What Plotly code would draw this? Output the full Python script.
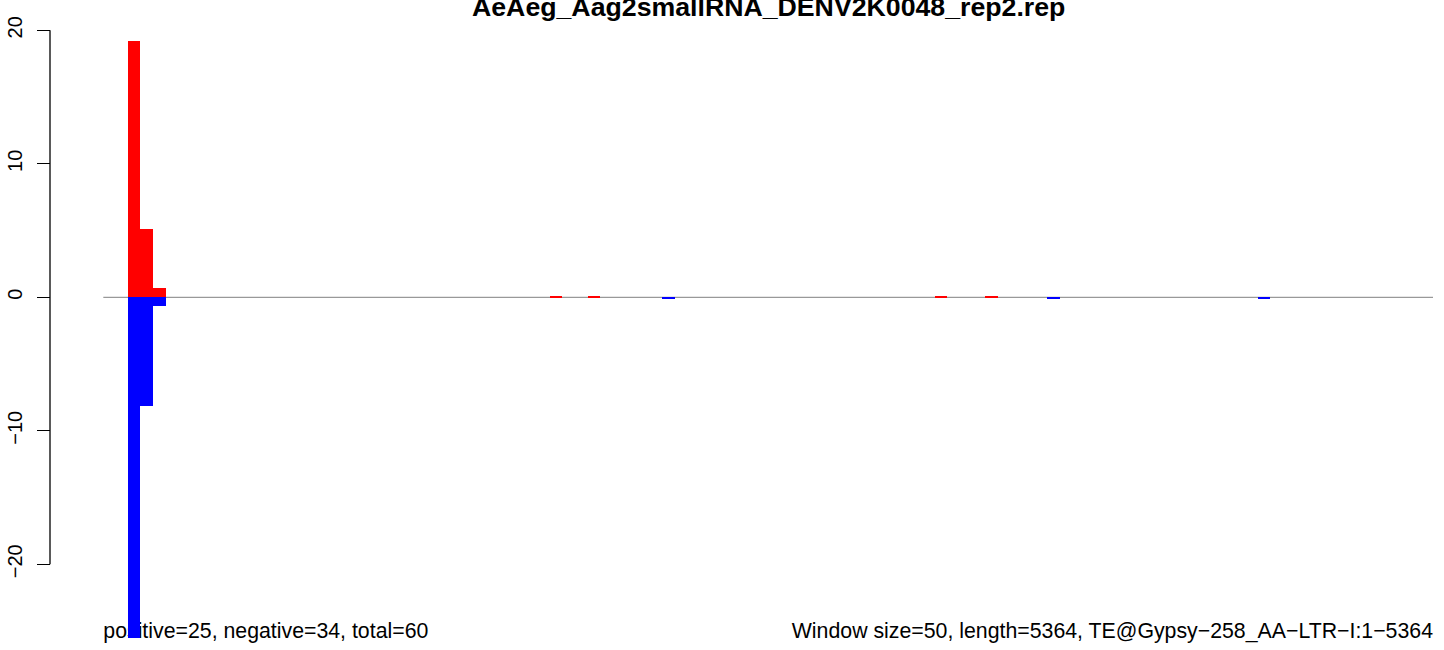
import plotly.graph_objects as go

# ---- data ----
title = "AeAeg_Aag2smallRNA_DENV2K0048_rep2.rep"
left_note = "positive=25, negative=34, total=60"
right_note = "Window size=50, length=5364, TE@Gypsy\u2212258_AA\u2212LTR\u2212I:1\u22125364"

window = 50
pos_start = [0, 50, 100, 1665, 1815, 3185, 3385]          # window start (nt)
pos_value = [19.2, 5.1, 0.67, 0.08, 0.08, 0.08, 0.08]
neg_start = [0, 50, 100, 2110, 3630, 4460]
neg_value = [-25.5, -8.15, -0.63, -0.15, -0.12, -0.12]

y_ticks = [-20, -10, 0, 10, 20]
y_tick_text = ["\u221220", "\u221210", "0", "10", "20"]

x_range = [-97.5, 5151]
y_range = [-26.42, 22.27]

FONT = "Liberation Sans, Arial, Helvetica, sans-serif"

fig = go.Figure()

# text notes in the base subplot (drawn beneath the bars)
fig.add_trace(go.Scatter(
    x=[x_range[0]], y=[-25.15], mode="text", text=[left_note],
    textposition="middle right", textfont=dict(family=FONT, size=21.3, color="black"),
    cliponaxis=False, showlegend=False, hoverinfo="skip", xaxis="x", yaxis="y"))
fig.add_trace(go.Scatter(
    x=[x_range[1]], y=[-25.15], mode="text", text=[right_note],
    textposition="middle left", textfont=dict(family=FONT, size=21.3, color="black"),
    cliponaxis=False, showlegend=False, hoverinfo="skip", xaxis="x", yaxis="y"))

# bars in an overlaying subplot
fig.add_trace(go.Bar(
    x=[s + window / 2 for s in pos_start], y=pos_value, width=window,
    marker=dict(color="#FF0000", line=dict(width=0)),
    showlegend=False, xaxis="x2", yaxis="y2"))
fig.add_trace(go.Bar(
    x=[s + window / 2 for s in neg_start], y=neg_value, width=window,
    marker=dict(color="#0000FF", line=dict(width=0)),
    showlegend=False, xaxis="x2", yaxis="y2"))

W, H = 1444, 650
ml, mr = 50, 11
dom0 = (103.3 - ml) / (W - ml - mr)

fig.update_layout(
    width=W, height=H,
    margin=dict(l=ml, r=mr, t=0, b=0, pad=0),
    paper_bgcolor="white", plot_bgcolor="white",
    barmode="overlay", bargap=0,
    font=dict(family=FONT, size=20, color="black"),
    xaxis=dict(domain=[dom0, 1], range=x_range, visible=False, fixedrange=True),
    yaxis=dict(range=y_range, anchor="free", position=0,
               tickvals=y_ticks, ticktext=y_tick_text, ticks="outside",
               ticklen=13, tickwidth=1, tickcolor="black", tickangle=-90,
               tickfont=dict(family=FONT, size=20, color="black"),
               ticklabelstandoff=7,
               showline=False, showgrid=False, zeroline=False),
    xaxis2=dict(domain=[dom0, 1], range=x_range, overlaying="x", visible=False, anchor="y2"),
    yaxis2=dict(range=y_range, overlaying="y", visible=False, anchor="x2"),
    shapes=[
        # zero line across the plot region
        dict(type="line", xref="x domain", yref="y", x0=0, x1=1, y0=0, y1=0,
             line=dict(color="#808080", width=1), layer="below"),
        # y axis line spanning first to last tick
        dict(type="line", xref="paper", yref="y", x0=0, x1=0,
             y0=y_ticks[0], y1=y_ticks[-1], line=dict(color="black", width=1.3)),
    ],
    annotations=[
        dict(text="<b>" + title + "</b>", xref="x domain", yref="paper",
             x=0.5, y=1, xanchor="center", yanchor="middle", yshift=-7,
             showarrow=False, font=dict(family=FONT, size=26.7, color="black")),
    ],
)

fig.write_html("out.html", config={"displayModeBar": False},
               post_script="document.body.style.margin='0';")
